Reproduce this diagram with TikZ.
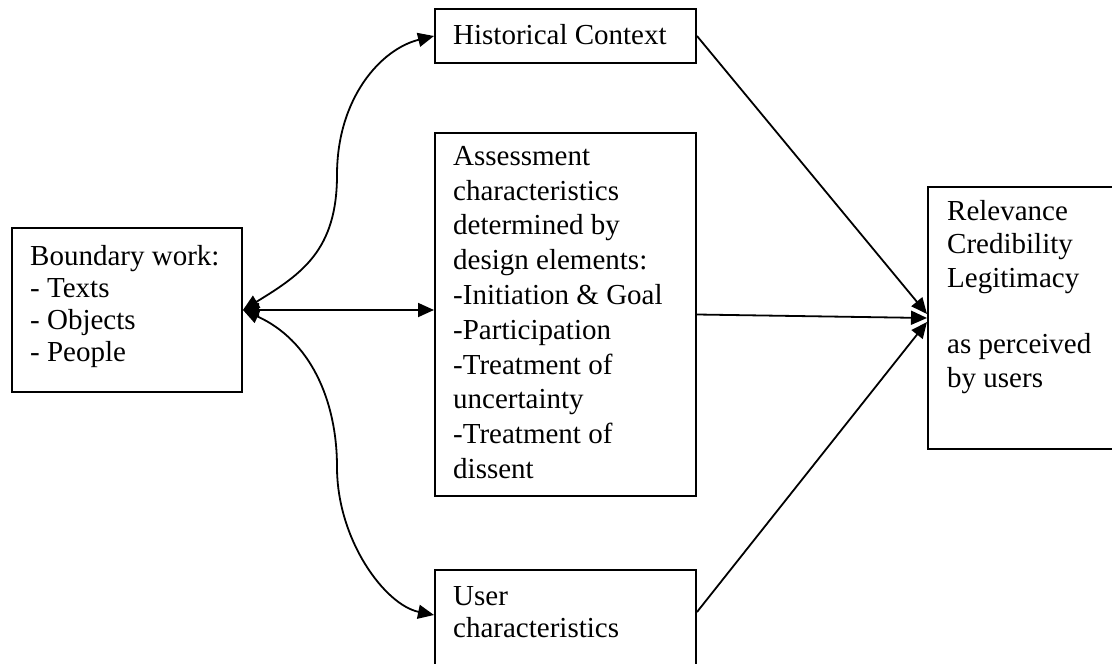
\documentclass[tikz,border=0pt]{standalone}
\usepackage{fontspec}
\setmainfont{Liberation Serif}
\usetikzlibrary{arrows.meta,calc}
\begin{document}
\begin{tikzpicture}[x=1pt,y=-1pt,
  box/.style={draw, line width=2pt, inner sep=0pt, anchor=north west},
  txt/.style={inner sep=0pt, anchor=north west, align=left},
  tip/.tip={Triangle[length=16pt,width=14pt]},
  arr/.style={line width=1.8pt, -tip},
  darr/.style={line width=1.8pt, tip-tip}]
\useasboundingbox (0,0) rectangle (1112,664);
% boxes
\node[box, minimum width=230pt, minimum height=164pt] (bw) at (11,227) {};
\node[box, minimum width=261pt, minimum height=54pt] (hc) at (434,8) {};
\node[box, minimum width=261pt, minimum height=363pt] (as) at (434,132) {};
\node[box, minimum width=261pt, minimum height=111pt] (uc) at (434,569) {};
\node[box, minimum width=200pt, minimum height=262pt] (rb) at (927,186) {};
% texts
\node[txt, font={\fontsize{29}{32.2}\selectfont}] (bwt) at (30,243)
  {\rule{0pt}{22pt}Boundary work:\\- Texts\\- Objects\\- People};
\node[txt, font={\fontsize{29}{33}\selectfont}] (hct) at (453,22)
  {\rule{0pt}{22pt}Historical Context};
\node[txt, font={\fontsize{29}{34.8}\selectfont}] (ast) at (453,143)
  {\rule{0pt}{22pt}Assessment\\characteristics\\determined by\\design elements:\\-Initiation \& Goal\\-Participation\\-Treatment of\\uncertainty\\-Treatment of\\dissent};
\node[txt, font={\fontsize{29}{32}\selectfont}] (uct) at (453,583)
  {\rule{0pt}{22pt}User\\characteristics};
\node[txt, font={\fontsize{29}{33.4}\selectfont}] (rbt) at (947,198)
  {\rule{0pt}{22pt}Relevance\\Credibility\\Legitimacy\\[33.4pt]as perceived\\by users};
% anchor points
\coordinate (ucw) at ($(uc.north west)+(0,46)$);
\coordinate (uce) at ($(uc.north east)+(0,43)$);
% left connectors
\draw[darr] (bw.east) -- (bw.east -| as.west);
\draw[darr] (bw.east) .. controls (302,274) and (337,250) .. (337,175)
  .. controls (337,98) and (381,49) .. (hc.west);
\draw[darr] (bw.east) .. controls (310,340) and (337,400) .. (337,467)
  .. controls (337,540) and (385,605) .. (ucw);
% right connectors
\draw[arr] (hc.east) -- ($(rb.west)+(0,-4)$);
\draw[arr] (as.east) -- (rb.west);
\draw[arr] (uce) -- ($(rb.west)+(0,4)$);
\end{tikzpicture}
\end{document}
